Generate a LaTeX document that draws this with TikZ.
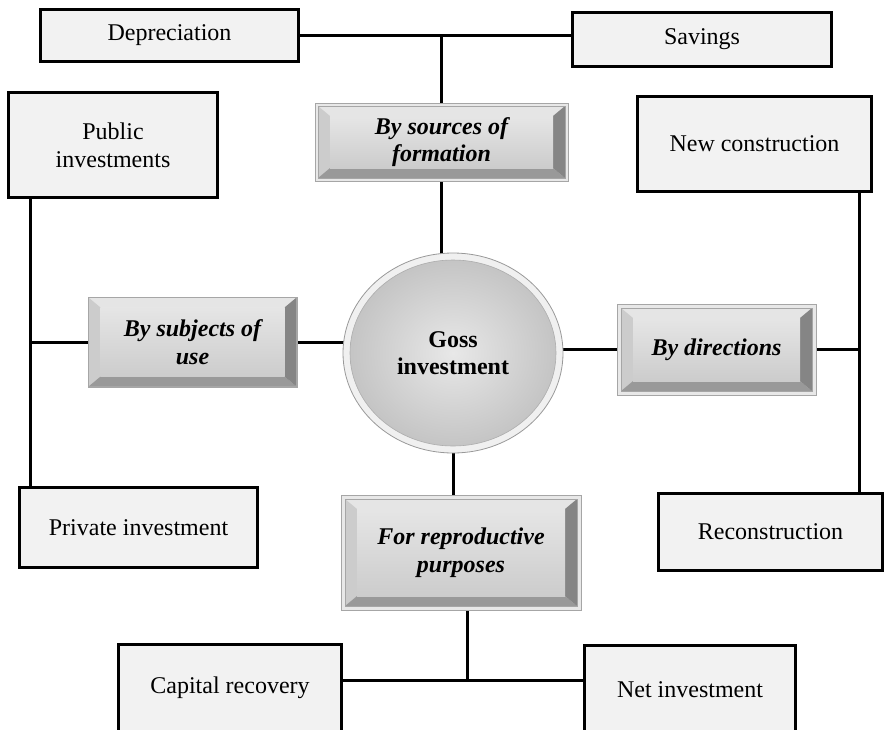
\documentclass[tikz,border=0pt]{standalone}
\usepackage{fontspec}
\setmainfont{Liberation Serif}
\usepackage{tikz}
\usetikzlibrary{calc, backgrounds, shapes.geometric}

\definecolor{boxfill}{RGB}{242,242,242}

\begin{document}
\begin{tikzpicture}[x=1pt, y=-1pt]
            \useasboundingbox (0,0) rectangle (887,729);
            \clip (0,0) rectangle (887,729);
            \begin{scope}
              \tikzset{plain/.style = {shape=rectangle,draw,line width=3pt,fill=boxfill,inner sep=0pt,align=center,font=\fontsize{24}{27.6}\selectfont}}
              \tikzset{bevel/.style = {shape=rectangle,draw=black!35,line width=0.8pt,fill=black!9,inner sep=0pt,align=center,font=\fontsize{24}{27.6}\selectfont\bfseries\itshape,
                path picture={
                  \coordinate (nw) at ([shift={(#1,-#1)}]path picture bounding box.north west);
                  \coordinate (ne) at ([shift={(-#1,-#1)}]path picture bounding box.north east);
                  \coordinate (se) at ([shift={(-#1,#1)}]path picture bounding box.south east);
                  \coordinate (sw) at ([shift={(#1,#1)}]path picture bounding box.south west);
                  \coordinate (inw) at ([shift={(12pt,-10pt)}]nw);
                  \coordinate (ine) at ([shift={(-12pt,-10pt)}]ne);
                  \coordinate (ise) at ([shift={(-12pt,10pt)}]se);
                  \coordinate (isw) at ([shift={(12pt,10pt)}]sw);
                  \fill[black!10] (nw) -- (ne) -- (ine) -- (inw) -- cycle;
                  \fill[black!20] (nw) -- (inw) -- (isw) -- (sw) -- cycle;
                  \fill[black!40] (sw) -- (isw) -- (ise) -- (se) -- cycle;
                  \fill[black!48] (ne) -- (se) -- (ise) -- (ine) -- cycle;
                  \shade[top color=black!10, bottom color=black!20] (inw) rectangle (ise);
                  \draw[black!35, line width=0.6pt] (nw) rectangle (se);
                }}}
              \tikzset{hub/.style = {shape=ellipse,draw=black!40,line width=0.8pt,fill=black!6,inner sep=0pt,align=center,font=\fontsize{24}{27.6}\selectfont\bfseries,
                path picture={
                  \shade[inner color=black!9, outer color=black!24, draw=black!32, line width=0.6pt] (path picture bounding box.center) ellipse [x radius=103pt, y radius=93pt];
                }}}
              \tikzset{edge/.style = {-,line width=3pt}}

              \node[hub, minimum width=220pt, minimum height=200pt] (0) at (453, 353) {Goss\\investment};
              \node[plain, minimum width=258pt, minimum height=52pt] (1) at (169.5, 35.5) {Depreciation};
              \node[plain, minimum width=259pt, minimum height=54pt] (2) at (702, 39.5) {Savings};
              \node[bevel=3pt, minimum width=253pt, minimum height=78pt] (3) at (441.5, 142) {By sources of\\formation};
              \node[bevel=0.5pt, minimum width=209pt, minimum height=90pt] (4) at (192.5, 342) {By subjects of\\use};
              \node[plain, minimum width=209pt, minimum height=105pt] (5) at (113, 145) {Public\\investments};
              \node[plain, minimum width=238pt, minimum height=80pt] (6) at (138.5, 527.5) {Private investment};
              \node[bevel=4pt, minimum width=199pt, minimum height=91pt] (7) at (716.5, 349.5) {By directions};
              \node[plain, minimum width=234pt, minimum height=95pt] (8) at (754.5, 144) {New construction};
              \node[plain, minimum width=224pt, minimum height=77pt] (9) at (770.5, 532) {Reconstruction};
              \node[bevel=4pt, minimum width=240pt, minimum height=115pt] (10) at (461, 552.5) {For reproductive\\purposes};
              \node[plain, minimum width=223pt, minimum height=88pt] (11) at (230, 688) {Capital recovery};
              \node[plain, minimum width=211pt, minimum height=89pt] (12) at (690, 690) {Net investment};

              \coordinate (l) at (30, 343);
              \coordinate (r) at (859, 345);
              \coordinate (m) at (467, 680);

              \begin{scope}[on background layer]
                \draw[edge] (1.east) to (2.west |- 1.east);
                \draw[edge] (3) to (3 |- 1.east);
                \draw[edge] (3) to (3 |- 0);
                \draw[edge] (4) to (4 -| 0);
                \draw[edge] (l |- 5) to (l |- 6);
                \draw[edge] (l |- 4) to (4);
                \draw[edge] (7) to (7 -| 0);
                \draw[edge] (r |- 8) to (r |- 9);
                \draw[edge] (7) to (7 -| r);
                \draw[edge] (0) to (0 |- 10);
                \draw[edge] (10 -| m) to (m);
                \draw[edge] (11 |- m) to (12 |- m);
              \end{scope}
            \end{scope}
          \end{tikzpicture}
\end{document}
